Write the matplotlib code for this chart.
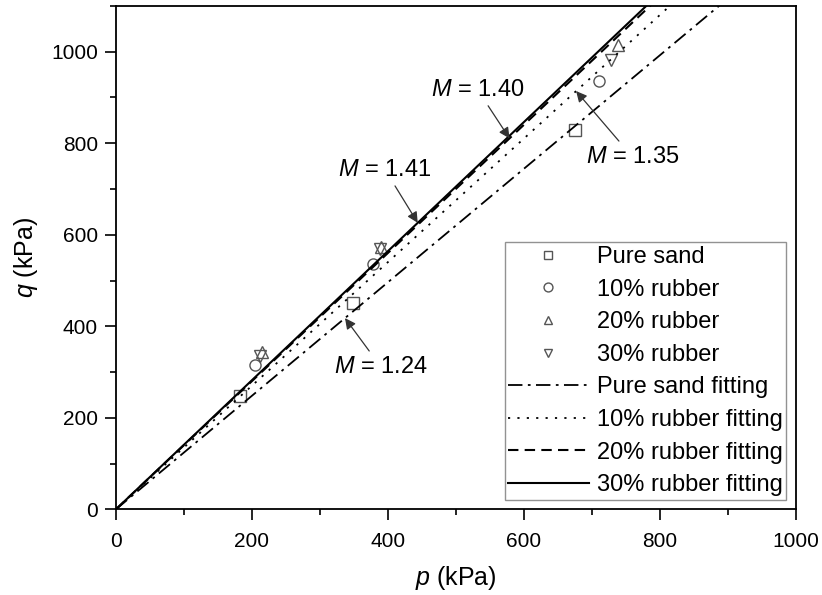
import numpy as np
import matplotlib.pyplot as plt
from matplotlib.ticker import MultipleLocator

plt.rcParams['font.family'] = ['Liberation Sans', 'DejaVu Sans']
plt.rcParams['mathtext.fontset'] = 'custom'
plt.rcParams['mathtext.it'] = 'Liberation Sans:italic'
plt.rcParams['mathtext.rm'] = 'Liberation Sans'

# datos
p_sand = [182, 349, 675]
q_sand = [248, 450, 829]
p_r10 = [204, 378, 711]
q_r10 = [316, 537, 935]
p_r20 = [215, 390, 738]
q_r20 = [343, 573, 1015]
p_r30 = [212, 388, 728]
q_r30 = [334, 568, 982]

# pendientes M de los ajustes
M_sand = 1.24
M_r10 = 1.35
M_r20 = 1.40
M_r30 = 1.41

fig, ax = plt.subplots(figsize=(8.22, 5.95), dpi=100)
fig.subplots_adjust(left=0.141, right=0.968, bottom=0.144, top=0.99)

mk = dict(linestyle='none', markerfacecolor='none', markeredgecolor='#555555',
          markersize=8, markeredgewidth=1.0)
ax.plot(p_sand, q_sand, marker='s', label='Pure sand', **mk)
ax.plot(p_r10, q_r10, marker='o', label='10% rubber', **mk)
ax.plot(p_r20, q_r20, marker='^', label='20% rubber', **mk)
ax.plot(p_r30, q_r30, marker='v', label='30% rubber', **mk)

p_fit = np.array([0, 1000])
ax.plot(p_fit, M_sand * p_fit, color='black', lw=1.3, linestyle=(0, (8, 3, 1.5, 3)),
        label='Pure sand fitting')
ax.plot(p_fit, M_r10 * p_fit, color='black', lw=1.3, linestyle=(0, (1.2, 4)),
        label='10% rubber fitting')
ax.plot(p_fit, M_r20 * p_fit, color='black', lw=1.5, linestyle=(0, (5, 3)),
        label='20% rubber fitting')
ax.plot(p_fit, M_r30 * p_fit, color='black', lw=1.5, linestyle='-',
        label='30% rubber fitting')

arrow = dict(arrowstyle='-|>', color='#333333', lw=0.9, mutation_scale=16,
             shrinkA=2, shrinkB=0)
fs = 17
ax.annotate('$M$ = 1.40', xy=(579, M_r20 * 579), xytext=(532, 917),
            ha='center', va='center', fontsize=fs, arrowprops=arrow)
ax.annotate('$M$ = 1.41', xy=(444, M_r30 * 444), xytext=(396, 742),
            ha='center', va='center', fontsize=fs, arrowprops=arrow)
ax.annotate('$M$ = 1.35', xy=(677, M_r10 * 677), xytext=(760, 770),
            ha='center', va='center', fontsize=fs, arrowprops=arrow)
ax.annotate('$M$ = 1.24', xy=(337, M_sand * 337), xytext=(390, 311),
            ha='center', va='center', fontsize=fs, arrowprops=arrow)

ax.set_xlim(0, 1000)
ax.set_ylim(0, 1100)
ax.xaxis.set_major_locator(MultipleLocator(200))
ax.xaxis.set_minor_locator(MultipleLocator(100))
ax.yaxis.set_major_locator(MultipleLocator(200))
ax.yaxis.set_minor_locator(MultipleLocator(100))
ax.tick_params(which='major', direction='out', length=8, width=1.2, labelsize=15)
ax.tick_params(which='minor', direction='out', length=4.5, width=1.2)
ax.tick_params(axis='x', which='major', pad=8)
ax.tick_params(axis='y', which='major', pad=5)
for s in ax.spines.values():
    s.set_linewidth(1.3)

ax.set_xlabel('$p$ (kPa)', fontsize=18, labelpad=10)
ax.set_ylabel('$q$ (kPa)', fontsize=18, labelpad=8)

leg = ax.legend(loc='lower right', fontsize=17, frameon=True, fancybox=False,
                edgecolor='#777777', handlelength=3.4, labelspacing=0.45,
                borderpad=0.15, handletextpad=0.35, borderaxespad=0.4,
                markerscale=0.8)
leg.get_frame().set_linewidth(1.0)

plt.savefig('out.png', dpi=100)
